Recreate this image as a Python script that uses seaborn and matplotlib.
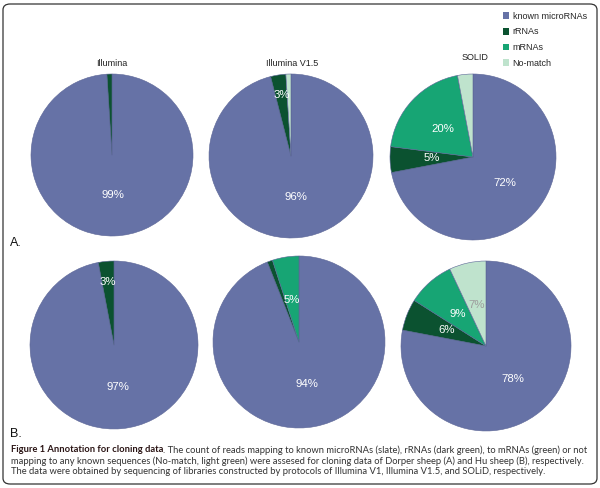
import numpy as np
import matplotlib
matplotlib.use("Agg")
import matplotlib.pyplot as plt
import seaborn as sns
from matplotlib.patches import FancyBboxPatch, Patch

# ---------- data ---------- #
categories = ["known microRNAs", "rRNAs", "mRNAs", "No-match"]
platforms = ["Illumina", "Illumina V1.5", "SOLID"]

a_illumina = [99, 1, 0, 0]
a_v15 = [96, 3, 0, 1]
a_solid = [72, 5, 20, 3]
b_illumina = [97, 3, 0, 0]
b_v15 = [94, 1, 5, 0]
b_solid = [78, 6, 9, 7]

# which slices carry a percentage label
a_shown = [["known microRNAs"],
           ["known microRNAs", "rRNAs"],
           ["known microRNAs", "rRNAs", "mRNAs"]]
b_shown = [["known microRNAs", "rRNAs"],
           ["known microRNAs", "mRNAs"],
           ["known microRNAs", "rRNAs", "mRNAs", "No-match"]]

caption_bold = "Figure 1 Annotation for cloning data"
caption_lines = [
    ". The count of reads mapping to known microRNAs (slate), rRNAs (dark green), to mRNAs (green) or not",
    "mapping to any known sequences (No-match, light green) were assesed for cloning data of Dorper sheep (A) and Hu sheep (B), respectively.",
    "The data were obtained by sequencing of libraries constructed by protocols of Illumina V1, Illumina V1.5, and SOLiD, respectively.",
]

# ---------- style ---------- #
sns.set_theme(style="white")
plt.rcParams["font.family"] = ["Liberation Sans", "DejaVu Sans"]
palette = sns.color_palette(["#6672a6", "#0b5230", "#17a574", "#bfe3cd"])
colors = dict(zip(categories, palette))

W, H = 600, 488
fig = plt.figure(figsize=(W / 100, H / 100), dpi=100)
fig.patch.set_facecolor("white")

# outer rounded frame
frame = FancyBboxPatch((3 / W, 4 / H), 594 / W, (H - 8) / H,
                       boxstyle="round,pad=0,rounding_size=0.012",
                       transform=fig.transFigure, fill=False,
                       edgecolor="#333333", linewidth=0.9)
fig.patches.append(frame)

# pie centres / radii in pixels (x, y from top, r)
a_geom = [(112, 155, 81), (291, 156, 82), (473, 157, 83)]
b_geom = [(114, 345, 84), (299, 342, 86), (486, 346, 85)]


def draw_pie(values, shown, geom):
    cx, cy, r = geom
    ax = fig.add_axes([(cx - r) / W, 1 - (cy + r) / H, 2 * r / W, 2 * r / H])
    cats = [c for c, v in zip(categories, values) if v > 0]
    vals = [v for v in values if v > 0]
    wedges, _ = ax.pie(vals, colors=[colors[c] for c in cats], startangle=90,
                       counterclock=False, radius=1,
                       wedgeprops=dict(edgecolor="#5b6596", linewidth=0.4))
    for w, c, v in zip(wedges, cats, vals):
        if c not in shown:
            continue
        mid = np.deg2rad((w.theta1 + w.theta2) / 2)
        d = 0.75 if v <= 3 else 0.5
        col = "#9c9c9c" if c == "No-match" else "white"
        ax.text(d * np.cos(mid), d * np.sin(mid), f"{v}%", ha="center",
                va="center", color=col, fontsize=8.2)
    ax.set_xlim(-1, 1)
    ax.set_ylim(-1, 1)
    ax.set_aspect("auto")
    ax.axis("off")
    return ax


for vals, shown, g in zip([a_illumina, a_v15, a_solid], a_shown, a_geom):
    draw_pie(vals, shown, g)
for vals, shown, g in zip([b_illumina, b_v15, b_solid], b_shown, b_geom):
    draw_pie(vals, shown, g)

# platform titles
for name, (x, y) in zip(platforms, [(112, 63), (292, 63), (475, 57)]):
    fig.text(x / W, 1 - y / H, name, ha="center", va="center", fontsize=6.5,
             color="#222222")

fig.text(10 / W, 1 - 243 / H, "A.", ha="left", va="center", fontsize=9, color="#111111")
fig.text(10 / W, 1 - 434 / H, "B.", ha="left", va="center", fontsize=9, color="#111111")

# legend
handles = [Patch(facecolor=colors[c], edgecolor="none", label=c) for c in categories]
fig.legend(handles=handles, loc="upper left", bbox_to_anchor=(499 / W, 1 - 8 / H),
           frameon=False, fontsize=6.5, handlelength=0.75, handleheight=0.75,
           handletextpad=0.35, labelspacing=0.75, borderaxespad=0)

# caption
cap_font = ["Lato", "DejaVu Sans"]
cap_size = 6.75
renderer = fig.canvas.get_renderer()
t = fig.text(11 / W, 1 - 450 / H, caption_bold, ha="left", va="center",
             fontsize=cap_size, fontweight="bold", family=cap_font, color="#2a1414")
bb = t.get_window_extent(renderer=renderer)
fig.text((bb.x1 - 0.5) / W, 1 - 450 / H, caption_lines[0], ha="left", va="center",
         fontsize=cap_size, family=cap_font, color="#333333")
for line, y in zip(caption_lines[1:], [461, 472]):
    fig.text(11 / W, 1 - y / H, line, ha="left", va="center",
             fontsize=cap_size, family=cap_font, color="#333333")

fig.savefig("out.png", dpi=100)
